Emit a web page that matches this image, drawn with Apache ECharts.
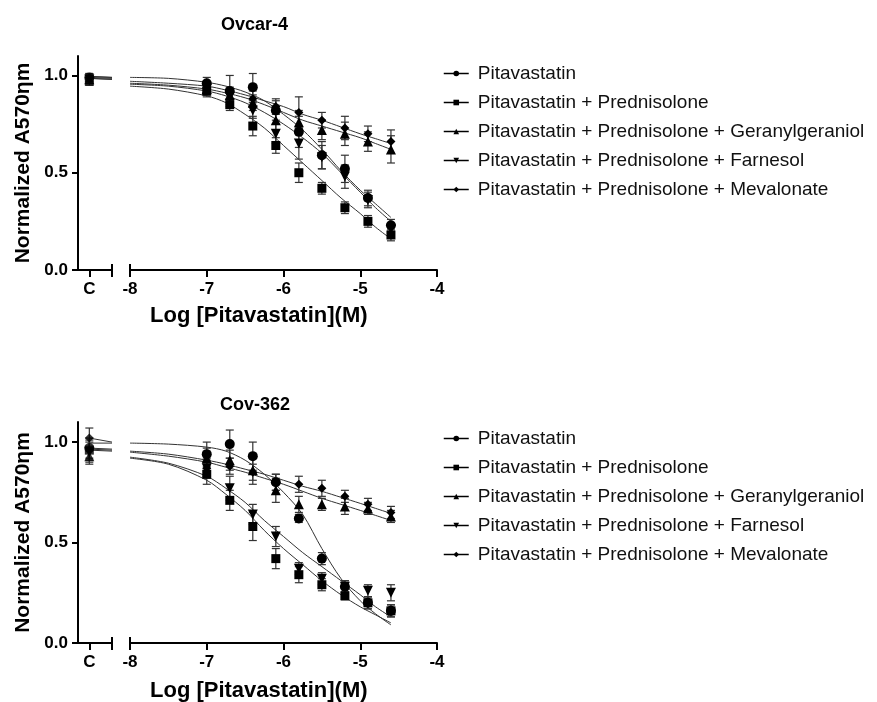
<!DOCTYPE html>
<html>
<head>
<meta charset="utf-8">
<script src="https://cdn.jsdelivr.net/npm/echarts@6/dist/echarts.min.js"></script>
<style>html,body{margin:0;padding:0;background:#fff;}#c{width:877px;height:702px;}</style>
</head>
<body>
<div id="c"></div>
<script>
// ---------- data ----------
const seriesNames = [
  'Pitavastatin',
  'Pitavastatin + Prednisolone',
  'Pitavastatin + Prednisolone + Geranylgeraniol',
  'Pitavastatin + Prednisolone + Farnesol',
  'Pitavastatin + Prednisolone + Mevalonate'
];
const panelTitles = ['Ovcar-4', 'Cov-362'];
const xAxisTitle = 'Log [Pitavastatin](M)';
const yAxisTitle = 'Normalized A570\u03b7m';
const xTicks = [-8, -7, -6, -5, -4];
const yTicks = [0, 0.5, 1.0];
const controlLabel = 'C';

const logDose = [-7, -6.7, -6.4, -6.1, -5.8, -5.5, -5.2, -4.9, -4.6];
const fitX = [-8, -7.5, -7, -6.75, -6.5, -6.25, -6, -5.75, -5.5, -5.25, -5, -4.8, -4.6];

// Ovcar-4
const ovPit      = [0.96, 0.92, 0.94, 0.82, 0.71, 0.59, 0.52, 0.37, 0.23];
const ovPitErr   = [0.03, 0.08, 0.07, 0.05, 0.08, 0.07, 0.07, 0.04, 0.03];
const ovPred     = [0.92, 0.85, 0.74, 0.64, 0.50, 0.42, 0.32, 0.25, 0.18];
const ovPredErr  = [0.03, 0.03, 0.05, 0.04, 0.05, 0.03, 0.03, 0.03, 0.03];
const ovGG       = [0.93, 0.90, 0.86, 0.77, 0.76, 0.72, 0.70, 0.66, 0.62];
const ovGGErr    = [0.03, 0.03, 0.04, 0.05, 0.06, 0.05, 0.06, 0.05, 0.07];
const ovFar      = [0.93, 0.89, 0.82, 0.70, 0.65, 0.58, 0.48, 0.36, 0.21];
const ovFarErr   = [0.03, 0.04, 0.04, 0.05, 0.08, 0.06, 0.06, 0.04, 0.03];
const ovMev      = [0.94, 0.91, 0.88, 0.84, 0.81, 0.77, 0.73, 0.70, 0.66];
const ovMevErr   = [0.03, 0.03, 0.04, 0.04, 0.08, 0.04, 0.06, 0.04, 0.06];
const ovPitFit   = [0.99, 0.985, 0.965, 0.945, 0.915, 0.87, 0.80, 0.72, 0.62, 0.51, 0.41, 0.34, 0.27];
const ovPredFit  = [0.945, 0.93, 0.895, 0.86, 0.80, 0.73, 0.64, 0.55, 0.46, 0.37, 0.29, 0.22, 0.16];
const ovGGFit    = [0.96, 0.95, 0.93, 0.91, 0.885, 0.85, 0.81, 0.77, 0.74, 0.71, 0.68, 0.65, 0.62];
const ovFarFit   = [0.955, 0.945, 0.92, 0.895, 0.86, 0.81, 0.75, 0.68, 0.60, 0.50, 0.40, 0.32, 0.25];
const ovMevFit   = [0.97, 0.96, 0.945, 0.925, 0.90, 0.87, 0.84, 0.80, 0.77, 0.735, 0.70, 0.675, 0.65];
const ovCtrl     = [0.99, 0.97, 0.98, 0.98, 0.99];
const ovCtrlErr  = [0.02, 0.02, 0.02, 0.02, 0.02];
const ovCtrlFitStart = [0.995, 0.985, 0.99, 0.985, 0.995];
const ovCtrlFitEnd   = [0.99, 0.98, 0.985, 0.98, 0.99];

// Cov-362
const cvPit      = [0.94, 0.99, 0.93, 0.80, 0.62, 0.42, 0.28, 0.20, 0.16];
const cvPitErr   = [0.06, 0.07, 0.07, 0.04, 0.02, 0.03, 0.03, 0.03, 0.03];
const cvPred     = [0.84, 0.71, 0.58, 0.42, 0.34, 0.29, 0.235, 0.20, 0.16];
const cvPredErr  = [0.05, 0.05, 0.07, 0.05, 0.04, 0.03, 0.02, 0.03, 0.03];
const cvGG       = [0.92, 0.91, 0.86, 0.76, 0.69, 0.69, 0.68, 0.67, 0.63];
const cvGGErr    = [0.05, 0.05, 0.07, 0.06, 0.04, 0.03, 0.04, 0.03, 0.03];
const cvFar      = [0.87, 0.77, 0.64, 0.53, 0.37, 0.32, 0.28, 0.26, 0.25];
const cvFarErr   = [0.05, 0.06, 0.05, 0.05, 0.03, 0.03, 0.03, 0.03, 0.04];
const cvMev      = [0.87, 0.88, 0.85, 0.80, 0.79, 0.77, 0.73, 0.69, 0.65];
const cvMevErr   = [0.04, 0.04, 0.04, 0.04, 0.04, 0.04, 0.03, 0.03, 0.03];
const cvPitFit   = [0.995, 0.99, 0.975, 0.955, 0.91, 0.84, 0.75, 0.64, 0.47, 0.32, 0.21, 0.145, 0.09];
const cvPredFit  = [0.92, 0.89, 0.81, 0.74, 0.66, 0.56, 0.47, 0.39, 0.31, 0.24, 0.18, 0.14, 0.10];
const cvGGFit    = [0.95, 0.93, 0.90, 0.875, 0.85, 0.82, 0.79, 0.755, 0.72, 0.69, 0.66, 0.635, 0.61];
const cvFarFit   = [0.925, 0.895, 0.83, 0.77, 0.70, 0.61, 0.53, 0.45, 0.38, 0.31, 0.24, 0.18, 0.13];
const cvMevFit   = [0.955, 0.94, 0.91, 0.89, 0.865, 0.84, 0.81, 0.78, 0.755, 0.725, 0.695, 0.67, 0.645];
const cvCtrl     = [0.97, 0.96, 0.93, 0.95, 1.02];
const cvCtrlErr  = [0.05, 0.05, 0.04, 0.05, 0.05];
const cvCtrlFitStart = [0.995, 0.97, 0.96, 0.965, 1.02];
const cvCtrlFitEnd   = [0.995, 0.965, 0.955, 0.96, 1.0];

// ---------- build ----------
const symbols = ['circle', 'rect', 'triangle', 'triangle', 'diamond'];
const symbolRot = [0, 0, 0, 180, 0];
const symbolSizes = [10, 9, 10, 10, 9];

const panels = [
  { pts: [ovPit, ovPred, ovGG, ovFar, ovMev], err: [ovPitErr, ovPredErr, ovGGErr, ovFarErr, ovMevErr],
    fit: [ovPitFit, ovPredFit, ovGGFit, ovFarFit, ovMevFit], ctrl: ovCtrl, ctrlErr: ovCtrlErr,
    cs: ovCtrlFitStart, ce: ovCtrlFitEnd },
  { pts: [cvPit, cvPred, cvGG, cvFar, cvMev], err: [cvPitErr, cvPredErr, cvGGErr, cvFarErr, cvMevErr],
    fit: [cvPitFit, cvPredFit, cvGGFit, cvFarFit, cvMevFit], ctrl: cvCtrl, ctrlErr: cvCtrlErr,
    cs: cvCtrlFitStart, ce: cvCtrlFitEnd }
];

const FONT = 'Liberation Sans, Arial, sans-serif';
const gridGeo = [
  { top: 56, height: 214 },
  { top: 422, height: 221 }
];

const grids = [], xAxes = [], yAxes = [], series = [];

function errRender(params, api) {
  const x = api.value(0), y = api.value(1), e = api.value(2);
  const t = api.coord([x, y + e]), b = api.coord([x, y - e]);
  const hw = 4, st = { stroke: '#333', lineWidth: 1.2 };
  return { type: 'group', children: [
    { type: 'line', shape: { x1: t[0], y1: t[1], x2: b[0], y2: b[1] }, style: st },
    { type: 'line', shape: { x1: t[0] - hw, y1: t[1], x2: t[0] + hw, y2: t[1] }, style: st },
    { type: 'line', shape: { x1: b[0] - hw, y1: b[1], x2: b[0] + hw, y2: b[1] }, style: st }
  ]};
}
function breakRender(params, api) {
  const p = api.coord([api.value(0), api.value(1)]);
  return { type: 'line', shape: { x1: p[0], y1: p[1] - 6, x2: p[0], y2: p[1] + 7 }, style: { stroke: '#000', lineWidth: 2 } };
}

const axisLineStyle = { lineStyle: { color: '#000', width: 2 } };
const labelStyle = { color: '#000', fontFamily: FONT, fontWeight: 'bold', fontSize: 17 };

panels.forEach((P, pi) => {
  const g = gridGeo[pi];
  const cGrid = grids.length;
  grids.push({ left: 78, width: 34, top: g.top, height: g.height });
  const mGrid = grids.length;
  grids.push({ left: 130, width: 307, top: g.top, height: g.height });

  const cx = xAxes.length;
  xAxes.push({ type: 'value', gridIndex: cGrid, min: 0, max: 3,
    axisLine: axisLineStyle,
    axisTick: { customValues: [1, 3], length: 7, lineStyle: { color: '#000', width: 2 } },
    axisLabel: Object.assign({ customValues: [1], formatter: () => controlLabel, margin: 11 }, labelStyle),
    splitLine: { show: false } });
  const mx = xAxes.length;
  xAxes.push({ type: 'value', gridIndex: mGrid, min: xTicks[0], max: xTicks[xTicks.length - 1], interval: 1,
    axisLine: axisLineStyle,
    axisTick: { length: 7, lineStyle: { color: '#000', width: 2 } },
    axisLabel: Object.assign({ margin: 11, formatter: v => String(v) }, labelStyle),
    splitLine: { show: false } });

  const cy = yAxes.length;
  yAxes.push({ type: 'value', gridIndex: cGrid, min: 0, max: 1.1,
    axisLine: { show: true, lineStyle: { color: '#000', width: 2 } },
    axisTick: { show: true, customValues: yTicks, length: 6, lineStyle: { color: '#000', width: 2 } },
    axisLabel: Object.assign({ customValues: yTicks, formatter: v => v.toFixed(1), margin: 10 }, labelStyle),
    splitLine: { show: false },
    name: yAxisTitle, nameLocation: 'middle', nameGap: 44,
    nameTextStyle: { color: '#000', fontFamily: FONT, fontWeight: 'bold', fontSize: 21 } });
  const my = yAxes.length;
  yAxes.push({ type: 'value', gridIndex: mGrid, min: 0, max: 1.1, show: false });

  // break marks
  series.push({ type: 'custom', xAxisIndex: cx, yAxisIndex: cy, data: [[3, 0]], renderItem: breakRender, silent: true, clip: false, z: 5 });
  series.push({ type: 'custom', xAxisIndex: mx, yAxisIndex: my, data: [[xTicks[0], 0]], renderItem: breakRender, silent: true, clip: false, z: 5 });

  seriesNames.forEach((name, si) => {
    series.push({ type: 'line', name: name + ' fit', xAxisIndex: mx, yAxisIndex: my,
      data: fitX.map((x, i) => [x, P.fit[si][i]]), smooth: 0.3, symbol: 'none',
      lineStyle: { color: '#333', width: 1 }, silent: true, z: 2 });
    series.push({ type: 'line', name: name + ' fitc', xAxisIndex: cx, yAxisIndex: cy,
      data: [[1, P.cs[si]], [3, P.ce[si]]], symbol: 'none',
      lineStyle: { color: '#333', width: 1 }, silent: true, z: 2 });
    series.push({ type: 'custom', xAxisIndex: mx, yAxisIndex: my, renderItem: errRender,
      data: logDose.map((x, i) => [x, P.pts[si][i], P.err[si][i]]), encode: { x: 0, y: 1 }, silent: true, z: 3 });
    series.push({ type: 'custom', xAxisIndex: cx, yAxisIndex: cy, renderItem: errRender,
      data: [[1, P.ctrl[si], P.ctrlErr[si]]], encode: { x: 0, y: 1 }, silent: true, z: 3 });
    series.push({ type: 'line', name: name, xAxisIndex: mx, yAxisIndex: my,
      data: logDose.map((x, i) => [x, P.pts[si][i]]),
      symbol: symbols[si], symbolRotate: symbolRot[si], symbolSize: symbolSizes[si], showSymbol: true,
      itemStyle: { color: '#000' }, lineStyle: { width: 0, opacity: 0 }, z: 4 });
    series.push({ type: 'scatter', name: name, xAxisIndex: cx, yAxisIndex: cy,
      data: [[1, P.ctrl[si]]],
      symbol: symbols[si], symbolRotate: symbolRot[si], symbolSize: symbolSizes[si],
      itemStyle: { color: '#000' }, z: 4 });
  });
});

const tStyle = (size) => ({ color: '#000', fontFamily: FONT, fontWeight: 'bold', fontSize: size });
const titles = [
  { text: panelTitles[0], left: 216, top: 11, textStyle: tStyle(18) },
  { text: panelTitles[1], left: 215, top: 391, textStyle: tStyle(18) },
  { text: xAxisTitle, left: 145, top: 300, textStyle: tStyle(22) },
  { text: xAxisTitle, left: 145, top: 675, textStyle: tStyle(22) }
];

function makeLegend(top) {
  return { data: seriesNames, orient: 'vertical', left: 438, top: top,
    itemWidth: 25, itemHeight: 7, itemGap: 10, selectedMode: false,
    lineStyle: { color: '#000', width: 1.5, opacity: 1, type: 'solid' },
    itemStyle: { color: '#000' },
    textStyle: { color: '#111', fontFamily: FONT, fontSize: 19, padding: [0, 0, 0, 4] } };
}

const chart = echarts.init(document.getElementById('c'), null, { renderer: 'canvas' });
chart.setOption({
  animation: false,
  backgroundColor: '#fff',
  title: titles,
  legend: [makeLegend(59), makeLegend(424)],
  grid: grids,
  xAxis: xAxes,
  yAxis: yAxes,
  series: series
});
</script>
</body>
</html>
